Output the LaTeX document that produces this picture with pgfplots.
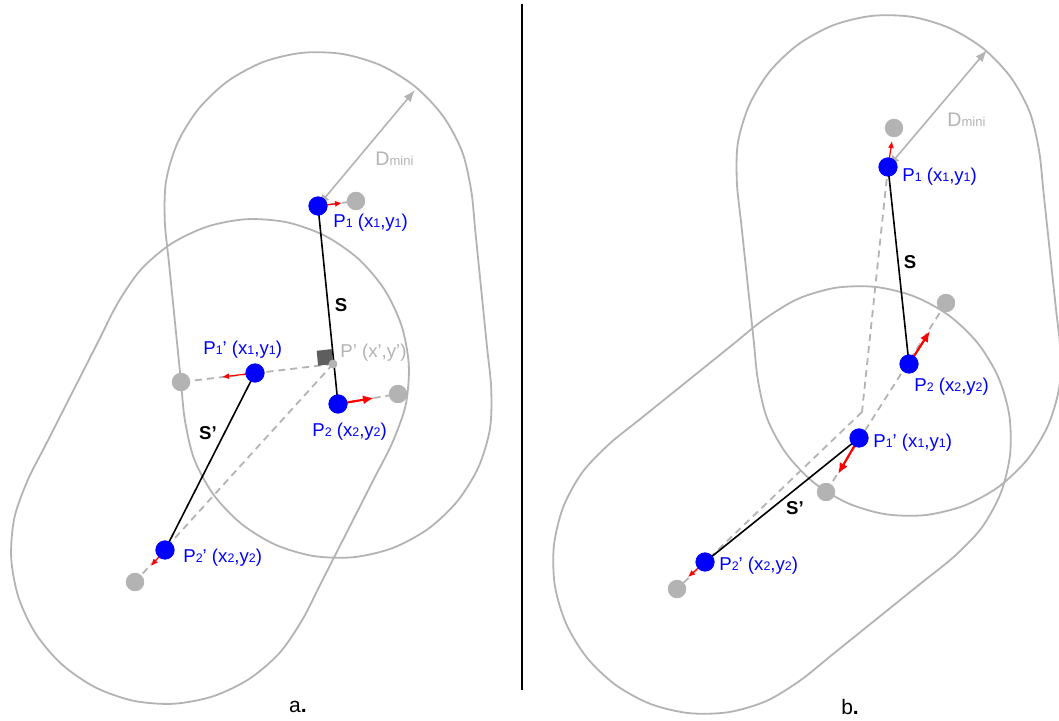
\documentclass[border=0pt]{standalone}
\usepackage{pgfplots}
\pgfplotsset{compat=1.18}
\usepackage{fontspec}
\setmainfont{Liberation Sans}
\usetikzlibrary{arrows.meta}
\definecolor{lg}{HTML}{B3B3B3}
\definecolor{dg}{HTML}{5E5E5E}
\newcommand{\lo}[1]{{\fontsize{6.2}{6}\selectfont #1}}
\begin{document}
\begin{tikzpicture}
\begin{axis}[scale only axis, width=529.5pt, height=360.5pt,
  xmin=0, xmax=1059, ymin=0, ymax=721, y dir=reverse,
  hide axis, clip=true, font=\fontsize{9.3}{10}\selectfont]
\addplot[draw=none] coordinates {(0,0) (1059,721)};
% capsules (outline points)
\addplot[lg, line width=0.9pt, smooth] coordinates {
(176.8,340.4) (172.8,300.8) (168.8,261.2)
(164.8,221.6) (166.0,181.4) (177.5,142.9) (198.7,108.7) (227.9,81.1) (263.3,62.0) (302.4,52.8) (342.6,54.0) (381.1,65.5) (415.3,86.7) (442.9,115.9) (462.0,151.3) (471.2,190.4)
(475.2,230.0) (479.2,269.6) (483.2,309.2) (487.2,348.8)
(491.2,388.4) (490.0,428.6) (478.5,467.1) (457.3,501.3) (428.1,528.9) (392.7,548.0) (353.6,557.2) (313.4,556.0) (274.9,544.5) (240.7,523.3) (213.1,494.1) (194.0,458.7) (184.8,419.6)
(180.8,380.0) (176.8,340.4)};
\addplot[lg, line width=0.9pt, smooth] coordinates {
(63.7,409.4) (81.7,374.0) (99.7,338.6)
(117.7,303.2) (140.5,270.0) (171.0,243.9) (207.3,226.6) (246.8,219.2) (286.9,222.3) (324.8,235.7) (358.0,258.5) (384.1,289.0) (401.4,325.3) (408.8,364.8) (405.7,404.9) (392.3,442.8)
(374.3,478.2) (356.3,513.6) (338.3,549.0) (320.3,584.4)
(302.3,619.8) (279.5,653.0) (249.0,679.1) (212.7,696.4) (173.2,703.8) (133.1,700.7) (95.2,687.3) (62.0,664.5) (35.9,634.0) (18.6,597.7) (11.2,558.2) (14.3,518.1) (27.7,480.2)
(45.7,444.8) (63.7,409.4)};
\addplot[lg, line width=0.9pt, smooth] coordinates {
(749.5,301.3) (745.3,261.9) (741.1,222.5)
(736.9,183.1) (737.8,143.4) (749.1,105.4) (769.7,71.5) (798.5,44.2) (833.3,25.2) (871.9,15.9) (911.6,16.8) (949.6,28.1) (983.5,48.7) (1010.9,77.5) (1029.8,112.3) (1039.1,150.9)
(1043.3,190.3) (1047.5,229.7) (1051.7,269.1) (1055.9,308.5)
(1060.1,347.9) (1059.2,387.6) (1048.0,425.6) (1027.3,459.5) (998.5,486.9) (963.7,505.8) (925.1,515.1) (885.4,514.2) (847.4,503.0) (813.5,482.3) (786.2,453.5) (767.2,418.7) (757.9,380.1)
(753.7,340.7) (749.5,301.3)};
\addplot[lg, line width=0.9pt, smooth] coordinates {
(671.3,394.0) (702.1,369.2) (732.9,344.4)
(763.7,319.6) (797.6,299.0) (835.6,287.8) (875.3,286.9) (913.9,296.3) (948.7,315.3) (977.4,342.7) (998.0,376.6) (1009.2,414.6) (1010.1,454.3) (1000.8,492.9) (981.7,527.7) (954.3,556.4)
(923.5,581.2) (892.7,606.0) (861.9,630.8) (831.1,655.6)
(800.3,680.4) (766.4,701.0) (728.4,712.2) (688.7,713.1) (650.1,703.8) (615.3,684.7) (586.6,657.3) (566.0,623.4) (554.8,585.4) (553.9,545.7) (563.2,507.1) (582.3,472.3) (609.7,443.6)
(640.5,418.8) (671.3,394.0)};
% divider
\addplot[black, line width=1pt] coordinates {(522,4) (522,690)};
% dashed lines
\addplot[lg, line width=0.9pt, dash pattern=on 3.5pt off 2.5pt] coordinates {(333,364) (181,382)};
\addplot[lg, line width=0.9pt, dash pattern=on 3.5pt off 2.5pt] coordinates {(333,364) (135,582)};
\addplot[lg, line width=0.9pt, dash pattern=on 3.5pt off 2.5pt] coordinates {(338,404) (398,394)};
\addplot[lg, line width=0.9pt, dash pattern=on 3.5pt off 2.5pt] coordinates {(318,206) (356,201)};
\addplot[lg, line width=0.9pt, dash pattern=on 3.5pt off 2.5pt] coordinates {(888,167) (862,412)};
\addplot[lg, line width=0.9pt, dash pattern=on 3.5pt off 2.5pt] coordinates {(862,412) (677,589)};
\addplot[lg, line width=0.9pt, dash pattern=on 3.5pt off 2.5pt] coordinates {(946,303) (826,492)};
% right-angle marker and P'
\addplot[fill=dg, draw=none] coordinates {(333,364) (331.6,349.1) (316.7,350.8) (318.1,365.7)};
% segments S and S'
\addplot[black, line width=0.8pt] coordinates {(318,206) (338,404)};
\addplot[black, line width=0.8pt] coordinates {(255,373) (165,550)};
\addplot[black, line width=0.8pt] coordinates {(888,167) (909,364)};
\addplot[black, line width=0.8pt] coordinates {(859,438) (705,562)};
% gray dots
\addplot[only marks, mark=*, mark size=4.4pt, lg] coordinates {(356,201) (398,394) (181,382) (135,582) (894,128) (946,303) (826,492) (677,589)};
\addplot[only marks, mark=*, mark size=2pt, lg] coordinates {(333,364)};
% red arrows
\addplot[red, line width=0.6pt, -{Latex[length=3.5pt,width=3pt]}] coordinates {(318,206) (342,203)};
\addplot[red, line width=1.1pt, -{Latex[length=5.5pt,width=4.5pt]}] coordinates {(338,404) (374,398)};
\addplot[red, line width=0.6pt, -{Latex[length=3.5pt,width=3pt]}] coordinates {(255,373) (222,377)};
\addplot[red, line width=0.6pt, -{Latex[length=3.5pt,width=3pt]}] coordinates {(165,550) (151,566)};
\addplot[red, line width=0.6pt, -{Latex[length=3.5pt,width=3pt]}] coordinates {(888,167) (892,141)};
\addplot[red, line width=1.1pt, -{Latex[length=5.5pt,width=4.5pt]}] coordinates {(909,364) (930,331)};
\addplot[red, line width=1.1pt, -{Latex[length=5.5pt,width=4.5pt]}] coordinates {(859,438) (838,474)};
\addplot[red, line width=0.6pt, -{Latex[length=3.5pt,width=3pt]}] coordinates {(705,562) (688,577)};
% blue dots
\addplot[only marks, mark=*, mark size=4.6pt, blue] coordinates {(318,206) (338,404) (255,373) (165,550) (888,167) (909,364) (859,438) (705,562)};
% D_mini arrows
\addplot[lg, line width=0.8pt, {Latex[length=6pt,width=4.5pt]}-{Latex[length=6pt,width=4.5pt]}] coordinates {(318,206) (415,90)};
\addplot[lg, line width=0.8pt, {Latex[length=6pt,width=4.5pt]}-{Latex[length=6pt,width=4.5pt]}] coordinates {(888,167) (987,50)};
% labels panel a
\node[anchor=west, text=blue, inner sep=0pt] at (axis cs:333,223) {P\lo{1} (x\lo{1},y\lo{1})};
\node[anchor=west, text=blue, inner sep=0pt] at (axis cs:203,350) {P\lo{1}' (x\lo{1},y\lo{1})};
\node[anchor=west, text=lg, inner sep=0pt] at (axis cs:340,353) {P' (x',y')};
\node[anchor=west, text=blue, inner sep=0pt] at (axis cs:312,432) {P\lo{2} (x\lo{2},y\lo{2})};
\node[anchor=west, text=blue, inner sep=0pt] at (axis cs:183,558) {P\lo{2}' (x\lo{2},y\lo{2})};
\node[text=black, inner sep=0pt, font=\fontsize{9.3}{10}\selectfont\bfseries] at (axis cs:341,305) {S};
\node[text=black, inner sep=0pt, font=\fontsize{9.3}{10}\selectfont\bfseries] at (axis cs:208,433) {S'};
\node[anchor=west, text=lg, inner sep=0pt, font=\fontsize{9.8}{10}\selectfont] at (axis cs:375,159) {D{\fontsize{6.5}{7}\selectfont mini}};
\node[text=black, inner sep=0pt, font=\fontsize{10.5}{11}\selectfont] at (axis cs:298,707) {a\textbf{.}};
% labels panel b
\node[anchor=west, text=blue, inner sep=0pt] at (axis cs:902,177) {P\lo{1} (x\lo{1},y\lo{1})};
\node[anchor=west, text=blue, inner sep=0pt] at (axis cs:914,387) {P\lo{2} (x\lo{2},y\lo{2})};
\node[anchor=west, text=blue, inner sep=0pt] at (axis cs:873,443) {P\lo{1}' (x\lo{1},y\lo{1})};
\node[anchor=west, text=blue, inner sep=0pt] at (axis cs:719,566) {P\lo{2}' (x\lo{2},y\lo{2})};
\node[text=black, inner sep=0pt, font=\fontsize{9.3}{10}\selectfont\bfseries] at (axis cs:910,262) {S};
\node[text=black, inner sep=0pt, font=\fontsize{9.3}{10}\selectfont\bfseries] at (axis cs:795,508) {S'};
\node[anchor=west, text=lg, inner sep=0pt, font=\fontsize{9.8}{10}\selectfont] at (axis cs:947,120) {D{\fontsize{6.5}{7}\selectfont mini}};
\node[text=black, inner sep=0pt, font=\fontsize{10.5}{11}\selectfont] at (axis cs:850,707) {b\textbf{.}};
\end{axis}
\end{tikzpicture}
\end{document}
